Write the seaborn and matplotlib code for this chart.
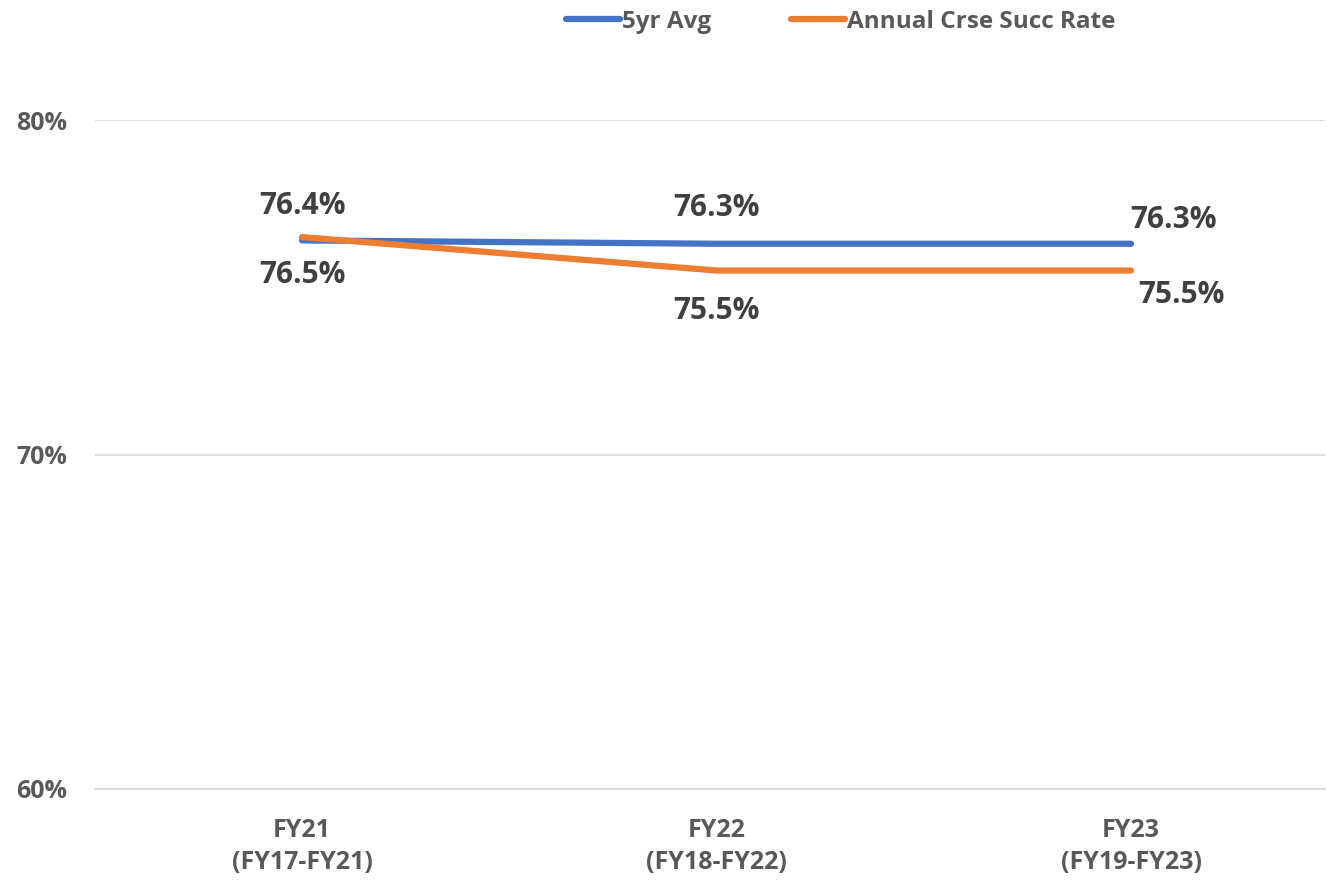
import matplotlib
matplotlib.use("Agg")
import matplotlib.pyplot as plt
import seaborn as sns
import pandas as pd
from matplotlib.lines import Line2D

categories = ["FY21\n(FY17-FY21)", "FY22\n(FY18-FY22)", "FY23\n(FY19-FY23)"]
avg_5yr = [76.4, 76.3, 76.3]
annual_rate = [76.5, 75.5, 75.5]
series_names = ["5yr Avg", "Annual Crse Succ Rate"]
yticks = [60, 70, 80]

sns.set_theme(style="white")
FONT = ['Open Sans', 'DejaVu Sans']
plt.rcParams['font.family'] = FONT

W, H = 1327, 882
fig = plt.figure(figsize=(W / 100, H / 100), dpi=100)
ax = fig.add_axes([95 / W, (H - 789) / H, 1230 / W, (789 - 120) / H])

df = pd.DataFrame({
    "x": list(range(3)) * 2,
    "value": avg_5yr + annual_rate,
    "series": [series_names[0]] * 3 + [series_names[1]] * 3,
})
palette = {series_names[0]: "#4472C4", series_names[1]: "#ED7D31"}
sns.lineplot(data=df, x="x", y="value", hue="series", palette=palette,
             linewidth=4.5, ax=ax, legend=False, solid_capstyle="round")

ax.set_xlim(-0.4994, 2.468)
ax.set_ylim(60, 80)
ax.set_yticks(yticks)
ax.set_yticklabels([f"{v}%" for v in yticks], fontsize=18, fontweight="bold", color="#595959")
ax.set_xticks(range(3))
ax.set_xticklabels(categories, fontsize=18, fontweight="bold", color="#595959", linespacing=1.35)
ax.tick_params(axis="y", length=0, pad=20)
ax.tick_params(axis="x", length=0, pad=21)
ax.set_xlabel("")
ax.set_ylabel("")
ax.grid(axis="y", color="#D9D9D9", linewidth=1.2)
for s in ["top", "right", "left"]:
    ax.spines[s].set_visible(False)
ax.spines["bottom"].set_color("#D9D9D9")
ax.spines["bottom"].set_linewidth(1.2)

lab_kw = dict(fontsize=21.5, fontweight="bold", color="#404040")
ax.annotate(f"{avg_5yr[0]}%", (0, avg_5yr[0]), xytext=(0, 34), textcoords="offset pixels", ha="center", va="center", **lab_kw)
ax.annotate(f"{avg_5yr[1]}%", (1, avg_5yr[1]), xytext=(0, 36), textcoords="offset pixels", ha="center", va="center", **lab_kw)
ax.annotate(f"{avg_5yr[2]}%", (2, avg_5yr[2]), xytext=(42, 24), textcoords="offset pixels", ha="center", va="center", **lab_kw)
ax.annotate(f"{annual_rate[0]}%", (0, annual_rate[0]), xytext=(0, -38), textcoords="offset pixels", ha="center", va="center", **lab_kw)
ax.annotate(f"{annual_rate[1]}%", (1, annual_rate[1]), xytext=(0, -40), textcoords="offset pixels", ha="center", va="center", **lab_kw)
ax.annotate(f"{annual_rate[2]}%", (2, annual_rate[2]), xytext=(50, -24), textcoords="offset pixels", ha="center", va="center", **lab_kw)

handles = [Line2D([], [], color=palette[n], linewidth=4.5, solid_capstyle="round") for n in series_names]
leg = fig.legend(handles, series_names, loc="center", bbox_to_anchor=(841 / W, 1 - 22 / H),
                 ncol=2, frameon=False, handlelength=2.2, handletextpad=0.1, columnspacing=3.3,
                 prop={"family": FONT, "weight": "bold", "size": 17.5})
for t in leg.get_texts():
    t.set_color("#595959")

fig.savefig("out.png", dpi=100)
